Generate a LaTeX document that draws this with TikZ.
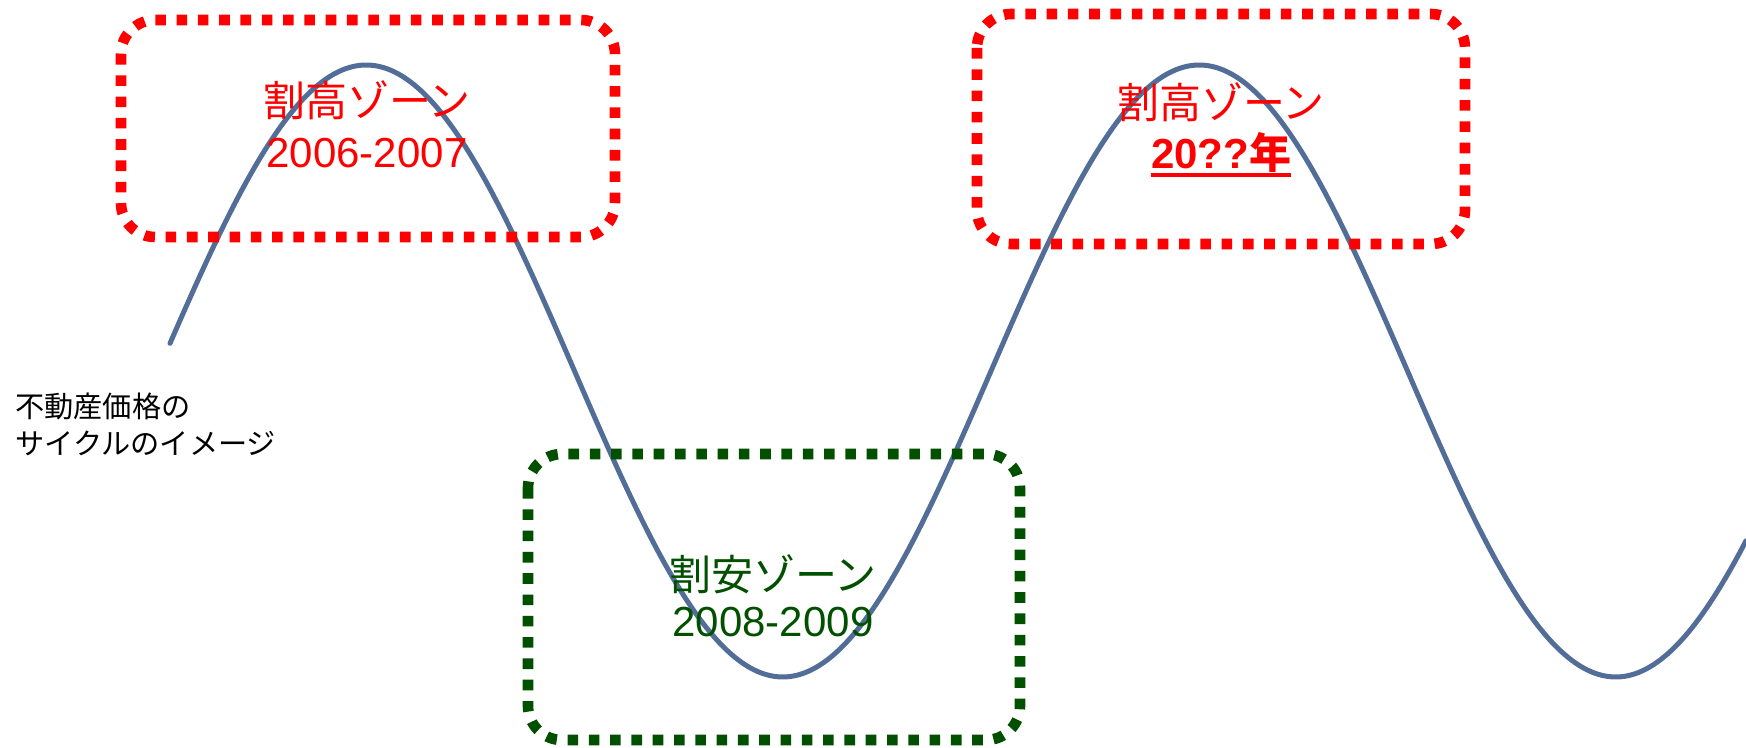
\documentclass[tikz,border=0pt]{standalone}
\usepackage{fontspec}
\setmainfont{Liberation Sans}
\newfontfamily\jp{Noto Sans CJK JP}
\definecolor{wave}{RGB}{82,110,152}
\definecolor{zred}{RGB}{255,0,0}
\definecolor{zgreen}{RGB}{0,80,0}
\begin{document}
\begin{tikzpicture}[x=0.5pt,y=-0.5pt,
  zone/.style={line width=5.3pt, dash pattern=on 5.3pt off 5.35pt, rounded corners=17pt},
  lbl/.style={inner sep=0pt, anchor=base, font=\fontsize{21pt}{24pt}\selectfont},
  side/.style={inner sep=0pt, anchor=base west, font=\fontsize{14.6pt}{18pt}\selectfont\jp}]
\useasboundingbox (0,0) rectangle (1746,748);
% wave
\draw[wave, line width=2.5pt, line cap=round] plot[domain=170:1746, samples=240, smooth]
  (\x, {371 - 306*sin(0.43217*(\x-158))});
% zones
\draw[zone, zred] (121,20) rectangle (615,237);
\draw[zone, zred] (977,14) rectangle (1465,244);
\draw[zone, zgreen] (528,454) rectangle (1020,740);
% labels
\node[lbl, text=zred] (z1a) at (367,117) {\jp 割高ゾーン};
\node[lbl, text=zred] (z1b) at (367,168) {2006-2007};
\node[lbl, text=zred] (z2a) at (1221,119) {\jp 割高ゾーン};
\node[lbl, text=zred] (z2b) at (1221,169) {\bfseries 20??{\jp 年}};
\draw[zred, line width=1.65pt] ([yshift=-3pt]z2b.base west) -- ([yshift=-3pt]z2b.base east);
\node[lbl, text=zgreen] (z3a) at (773,590) {\jp 割安ゾーン};
\node[lbl, text=zgreen] (z3b) at (773,636) {2008-2009};
\node[side] (s1) at (15,418) {不動産価格の};
\node[side] (s2) at (15,455) {サイクルのイメージ};
\end{tikzpicture}
\end{document}
